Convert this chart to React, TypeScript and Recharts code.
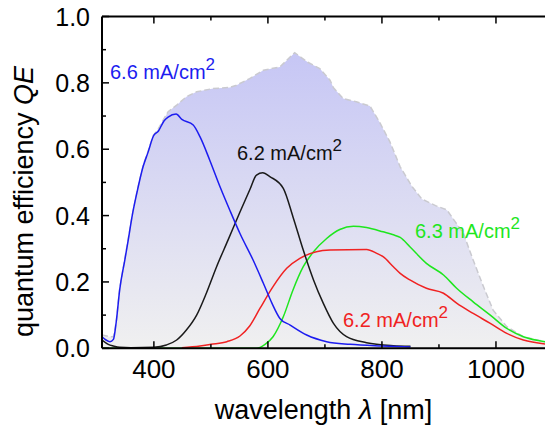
import React from "react";
import { ComposedChart, Area, Line, XAxis, YAxis } from "recharts";

const FONT = '"Liberation Sans", Arial, sans-serif';

// wavelength [nm] / quantum efficiency per sub-cell
const blueWl = [309, 316, 323, 329, 334, 340, 349, 355, 362, 370, 381, 390, 399, 408, 418, 425, 439, 449, 469, 481, 498, 516, 533, 551, 574, 592, 607, 621, 639, 668, 703, 744, 800, 850];
const blueQe = [0.035, 0.025, 0.02, 0.027, 0.08, 0.176, 0.266, 0.326, 0.4, 0.467, 0.547, 0.592, 0.639, 0.655, 0.686, 0.697, 0.706, 0.69, 0.673, 0.637, 0.567, 0.487, 0.417, 0.346, 0.266, 0.196, 0.136, 0.09, 0.07, 0.04, 0.02, 0.012, 0.007, 0.004];

const blackWl = [309, 320, 329, 340, 360, 400, 422, 440, 457, 475, 492, 510, 530, 551, 568, 580, 591, 604, 627, 644, 662, 680, 697, 715, 738, 773, 820, 850];
const blackQe = [0.025, 0.012, 0.007, 0.003, 0.002, 0.003, 0.01, 0.025, 0.055, 0.1, 0.166, 0.246, 0.326, 0.411, 0.477, 0.522, 0.529, 0.517, 0.482, 0.396, 0.296, 0.206, 0.136, 0.075, 0.035, 0.017, 0.008, 0.006];

const redWl = [449, 481, 500, 528, 551, 568, 586, 609, 633, 656, 685, 709, 773, 791, 802, 820, 832, 849, 878, 908, 931, 960, 990, 1019, 1048, 1086];
const redQe = [0.002, 0.007, 0.012, 0.02, 0.037, 0.067, 0.12, 0.186, 0.241, 0.271, 0.291, 0.296, 0.298, 0.286, 0.276, 0.246, 0.226, 0.206, 0.181, 0.166, 0.136, 0.105, 0.075, 0.045, 0.025, 0.013];

const greenWl = [309, 580, 595, 609, 627, 644, 662, 680, 703, 726, 750, 773, 802, 820, 832, 849, 878, 908, 931, 960, 990, 1019, 1048, 1086];
const greenQe = [0, 0, 0.012, 0.035, 0.095, 0.176, 0.246, 0.291, 0.331, 0.358, 0.368, 0.364, 0.351, 0.342, 0.334, 0.306, 0.256, 0.221, 0.181, 0.14, 0.1, 0.06, 0.035, 0.02];

// shaded total QE
const totalWl = [309, 322, 329, 334, 340, 349, 355, 362, 370, 381, 390, 399, 408, 418, 425, 440, 457, 475, 504, 533, 545, 568, 592, 621, 647, 670, 691, 709, 715, 732, 755, 779, 797, 814, 832, 853, 870, 894, 914, 943, 960, 978, 995, 1019, 1048, 1086];
const totalQe = [0.04, 0.035, 0.035, 0.08, 0.18, 0.27, 0.33, 0.4, 0.47, 0.55, 0.595, 0.642, 0.662, 0.693, 0.713, 0.733, 0.758, 0.773, 0.783, 0.786, 0.793, 0.813, 0.838, 0.848, 0.891, 0.862, 0.843, 0.808, 0.785, 0.753, 0.743, 0.73, 0.678, 0.622, 0.547, 0.487, 0.45, 0.43, 0.417, 0.346, 0.266, 0.186, 0.115, 0.065, 0.035, 0.02];

const xTicks = [400, 500, 600, 700, 800, 900, 1000];
const yTicks = [0, 0.1, 0.2, 0.3, 0.4, 0.5, 0.6, 0.7, 0.8, 0.9, 1.0];

const zip = (wl: number[], qe: number[]) => wl.map((x, i) => ({ x, y: qe[i] }));

const BottomTick = (props: any) => {
  const { x, y, payload } = props;
  const major = payload.value % 200 === 0;
  return (
    <g>
      <line x1={x} x2={x} y1={y} y2={y - (major ? 7 : 4)} stroke="#000" strokeWidth={1.5} />
      {major && (
        <text x={x} y={y + 30} textAnchor="middle" fontSize={26} fontFamily={FONT} fill="#000">
          {payload.value}
        </text>
      )}
    </g>
  );
};

const TopTick = (props: any) => {
  const { x, y, payload } = props;
  const major = payload.value % 200 === 0;
  return <line x1={x} x2={x} y1={y} y2={y + (major ? 7 : 4)} stroke="#000" strokeWidth={1.5} />;
};

const LeftTick = (props: any) => {
  const { x, y, payload } = props;
  const major = Math.round(payload.value * 10) % 2 === 0;
  return (
    <g>
      <line x1={x} x2={x + (major ? 7 : 4)} y1={y} y2={y} stroke="#000" strokeWidth={1.5} />
      {major && (
        <text x={x - 12} y={y} dy="0.36em" textAnchor="end" fontSize={25} fontFamily={FONT} fill="#000">
          {payload.value.toFixed(1)}
        </text>
      )}
    </g>
  );
};

const Note = ({ x, y, color, text }: { x: number; y: number; color: string; text: string }) => (
  <text x={x} y={y} fill={color} fontSize={20} fontFamily={FONT}>
    {text}
    <tspan dy={-9} fontSize={17}>2</tspan>
  </text>
);

export default function App() {
  return (
    <div style={{ position: "absolute", left: 0, top: 0, width: 545, height: 429, background: "#fff" }}>
      <ComposedChart width={545} height={429} margin={{ top: 6.5, right: 0, bottom: 50.7, left: 42 }}>
        <defs>
          <linearGradient id="qeFill" x1="0" y1="0" x2="0" y2="1">
            <stop offset="0%" stopColor="#c6c6f5" />
            <stop offset="100%" stopColor="#f0f0f0" />
          </linearGradient>
        </defs>
        <XAxis
          dataKey="x"
          type="number"
          domain={[309, 1086]}
          allowDataOverflow
          ticks={xTicks}
          interval={0}
          height={30}
          tickSize={0}
          tickMargin={0}
          tickLine={false}
          stroke="#000"
          axisLine={{ stroke: "#000", strokeWidth: 2 }}
          tick={BottomTick}
        />
        <XAxis
          xAxisId="top"
          orientation="top"
          dataKey="x"
          type="number"
          domain={[309, 1086]}
          allowDataOverflow
          ticks={xTicks}
          interval={0}
          height={10}
          tickSize={0}
          tickMargin={0}
          tickLine={false}
          stroke="#000"
          axisLine={{ stroke: "#000", strokeWidth: 2 }}
          tick={TopTick}
        />
        <YAxis
          type="number"
          domain={[0, 1]}
          ticks={yTicks}
          interval={0}
          width={60}
          tickSize={0}
          tickMargin={0}
          tickLine={false}
          stroke="#000"
          axisLine={{ stroke: "#000", strokeWidth: 2 }}
          tick={LeftTick}
        />
        <Area
          data={zip(totalWl, totalQe)}
          dataKey="y"
          type="linear"
          fill="url(#qeFill)"
          fillOpacity={1}
          stroke="#cacad0"
          strokeWidth={1.5}
          strokeDasharray="6 3"
          isAnimationActive={false}
        />
        <Line data={zip(greenWl, greenQe)} dataKey="y" type="monotone" stroke="#1ee61e" strokeWidth={1.5} dot={false} isAnimationActive={false} />
        <Line data={zip(redWl, redQe)} dataKey="y" type="monotone" stroke="#f02222" strokeWidth={1.5} dot={false} isAnimationActive={false} />
        <Line data={zip(blackWl, blackQe)} dataKey="y" type="monotone" stroke="#1a1a1a" strokeWidth={1.5} dot={false} isAnimationActive={false} />
        <Line data={zip(blueWl, blueQe)} dataKey="y" type="monotone" stroke="#1c1cf0" strokeWidth={1.5} dot={false} isAnimationActive={false} />
      </ComposedChart>
      <svg width={545} height={429} style={{ position: "absolute", left: 0, top: 0, pointerEvents: "none" }}>
        <Note x={110} y={79} color="#1c1cf0" text="6.6 mA/cm" />
        <Note x={237} y={160} color="#111" text="6.2 mA/cm" />
        <Note x={415} y={238} color="#1ee61e" text="6.3 mA/cm" />
        <Note x={343} y={327} color="#f02222" text="6.2 mA/cm" />
        <text x={323.5} y={419} textAnchor="middle" fontSize={27} fontFamily={FONT} fill="#000">
          wavelength <tspan fontStyle="italic">λ</tspan> [nm]
        </text>
        <text
          x={33}
          y={201.5}
          transform="rotate(-90 33 201.5)"
          textAnchor="middle"
          fontSize={27}
          fontFamily={FONT}
          fill="#000"
        >
          quantum efficiency <tspan fontStyle="italic">QE</tspan>
        </text>
      </svg>
    </div>
  );
}
